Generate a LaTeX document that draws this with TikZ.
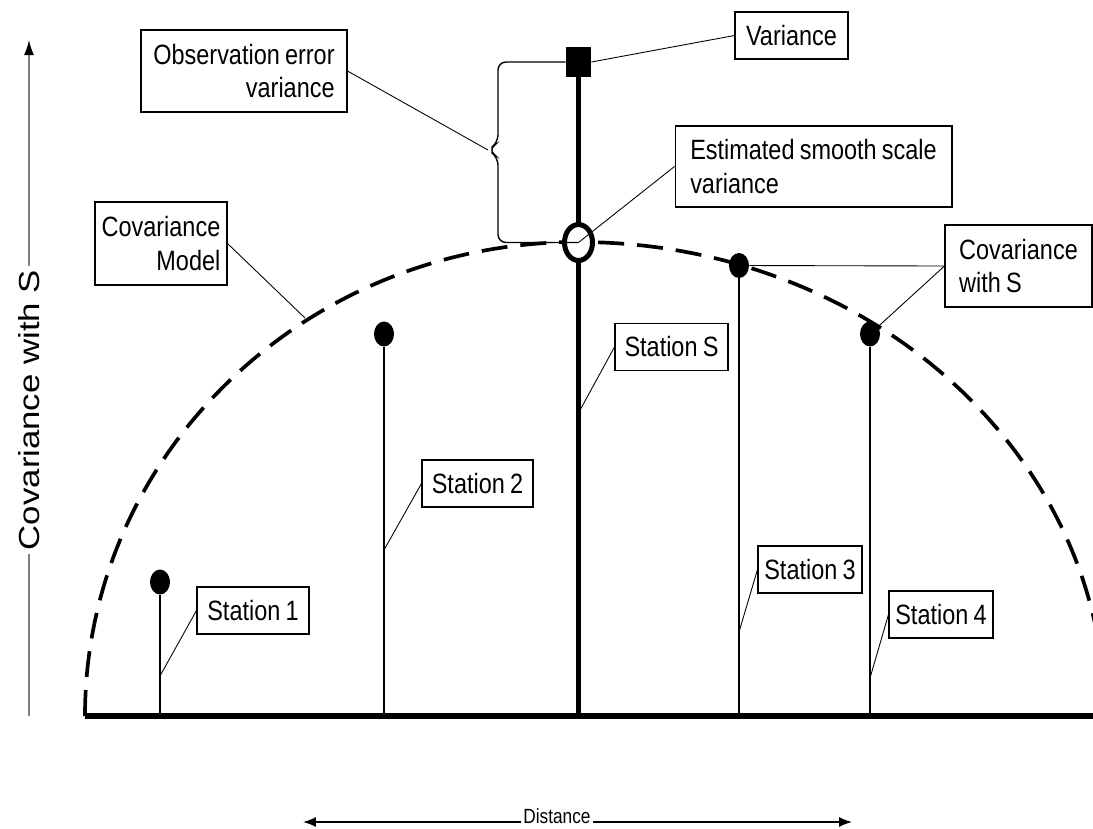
\documentclass[tikz,border=0pt]{standalone}
\usepackage{fontspec}
\setmainfont{Liberation Sans}[FakeStretch=0.84, WordSpace=0.8]
\newfontfamily\widefont{Liberation Sans}[FakeStretch=1.2]
\usetikzlibrary{shapes.geometric,arrows.meta}

\tikzset{lbl/.style={draw, line width=0.6pt, fill=white, inner xsep=0.12cm, inner ysep=0pt,
                     font=\fontsize{15.9}{19.3}\selectfont},
         box1/.style={lbl, minimum height=0.94cm},
         dot/.style={ellipse, fill=black, inner sep=0pt, minimum width=0.4cm, minimum height=0.5cm},
         stem/.style={line width=0.85pt},
         lead/.style={line width=0.5pt}}

\begin{document}
\begin{tikzpicture}[x=0.02cm, y=-0.02cm]
\clip (0,0) rectangle (1093,829);
% covariance model
\coordinate (o) at (85,716);
\coordinate (xend) at (1093,716);
\draw[line width=2.1pt, dash pattern=on 0.52cm off 0.26cm] (o)
  arc[start angle=180, end angle=270, x radius=493, y radius=474]
  arc[start angle=270, end angle=360, x radius=527, y radius=474];
\coordinate (cm) at (305,318);
\draw[line width=3.5pt] (o) -- (xend);
% station S
\coordinate (sfoot) at (578.5,716);
\node[rectangle, fill=black, minimum width=0.5cm, minimum height=0.6cm, inner sep=0] (sq) at (578.5,62) {};
\draw[line width=2.5pt] (sfoot) -- (sq);
\node[ellipse, draw, line width=0.1cm, fill=white, minimum width=0.56cm, minimum height=0.72cm, inner sep=0] (ss) at (578.5,242.5) {};
% other stations
\foreach \n/\x/\y in {1/160/582, 2/384/334, 3/739/265.5, 4/870/334}{
  \node[dot] (d\n) at (\x,\y) {};
  \coordinate (f\n) at (\x,716);
  \draw[stem] (d\n) -- (f\n);
}
\coordinate (l1) at (160,676);
\coordinate (l2) at (384,550);
\coordinate (lS) at (579,412);
\coordinate (l3) at (739,632);
\coordinate (l4) at (870,678);
% brace
\coordinate (btip) at (488,150);
\draw[line width=0.8pt, rounded corners=0.16cm] (sq.west) -- (498,62) -- (498,143) -- (btip)
  -- (498,157) -- (498,242.5) -- (ss.center);

% labels
\node[lbl, align=right, minimum width=4.12cm, minimum height=1.64cm] (obs) at (244,71) {Observation error\\variance};
\node[box1, minimum width=2.26cm] (var) at (791.5,35.5) {Variance};
\node[lbl, align=left, minimum width=5.54cm, minimum height=1.62cm] (est) at (813.5,166.5) {Estimated smooth scale\\variance};
\node[lbl, align=left, minimum width=2.94cm, minimum height=1.64cm] (covS) at (1018.5,266) {Covariance\\with S};
\node[lbl, align=right, minimum width=2.64cm, minimum height=1.66cm] (covM) at (161,243.5) {Covariance\\Model};
\node[box1, minimum width=2.24cm] (st1) at (253,610.5) {Station 1};
\node[box1, minimum width=2.22cm] (st2) at (477.5,483.5) {Station 2};
\node[box1, minimum width=2.26cm] (stS) at (671.5,347) {Station S};
\node[box1, minimum width=2.08cm] (st3) at (810,569.5) {Station 3};
\node[box1, minimum width=2.08cm] (st4) at (941,614.5) {Station 4};

% leaders
\draw[lead] (obs.east) -- (btip);
\draw[lead] (var.west) -- (sq.east);
\draw[lead] (est.west) -- (ss.center);
\draw[lead] (covS.west) -- (d3);
\draw[lead] (covS.west) -- (d4);
\draw[lead] (covM.east) -- (cm);
\draw[lead] (st1.west) -- (l1);
\draw[lead] (st2.west) -- (l2);
\draw[lead] (stS.west) -- (lS);
\draw[lead] (st3.west) -- (l3);
\draw[lead] (st4.west) -- (l4);

% axes
\node[rotate=90, font=\widefont\fontsize{16.5}{20}\selectfont, inner sep=2pt] (ylab) at (29,410) {Covariance with S};
\coordinate (ybot) at (29,716);
\coordinate (ytop) at (29,40);
\draw[gray, line width=0.85pt] (ybot) -- (ylab.west);
\draw[gray, line width=0.85pt, -{Latex[color=black, length=0.3cm, width=0.2cm]}] (ylab.east) -- (ytop);

\node[font=\fontsize{11.7}{14}\selectfont, inner sep=1pt] (dist) at (557,816) {Distance};
\coordinate (dl) at (303,822);
\coordinate (dr) at (852,822);
\draw[line width=0.85pt, -{Latex[length=0.26cm, width=0.2cm]}] (dist.west |- dl) -- (dl);
\draw[line width=0.85pt, -{Latex[length=0.26cm, width=0.2cm]}] (dist.east |- dr) -- (dr);
\end{tikzpicture}
\end{document}
